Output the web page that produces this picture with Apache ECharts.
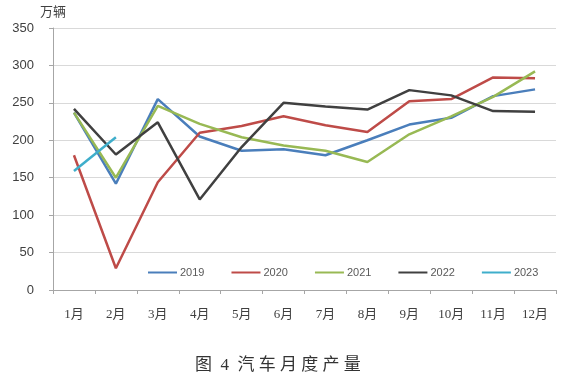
<!DOCTYPE html>
<html>
<head>
<meta charset="utf-8">
<script src="https://cdn.jsdelivr.net/npm/echarts@6/dist/echarts.min.js"></script>
<style>html,body{margin:0;padding:0;background:#fff;}#c{width:573px;height:383px;}</style>
</head>
<body>
<div id="c"></div>
<script>
const categories = ['1月','2月','3月','4月','5月','6月','7月','8月','9月','10月','11月','12月'];
const seriesNames = ['2019','2020','2021','2022','2023'];
const v2019 = [237, 142, 255, 205, 186, 188, 180, 200, 221, 230, 259, 268];
const v2020 = [180, 29, 144, 210, 219, 232, 220, 211, 252, 255, 284, 283];
const v2021 = [237, 150, 246, 222, 204, 193, 186, 171, 208, 232, 258, 292];
const v2022 = [242, 181, 224, 121, 191, 250, 245, 241, 267, 260, 239, 238];
const v2023 = [159, 204];
const yTicks = [0, 50, 100, 150, 200, 250, 300, 350];
const colors = ['#4A7EBB', '#BE4B48', '#98B954', '#404040', '#3FAECB'];
const allValues = [v2019, v2020, v2021, v2022, v2023];

const chart = echarts.init(document.getElementById('c'), null, {renderer: 'canvas'});
const serif = '"Liberation Serif", "Noto Sans CJK SC", serif';
const sans = '"Liberation Sans", "Noto Sans CJK SC", sans-serif';
chart.setOption({
  animation: false,
  backgroundColor: '#fff',
  title: {
    text: '图  4  汽 车 月 度 产 量',
    left: 190, top: 352,
    textStyle: {fontFamily: serif, fontSize: 17, fontWeight: 'normal', color: '#333'}
  },
  legend: {
    data: seriesNames,
    left: 143, top: 262,
    icon: 'rect', itemWidth: 29, itemHeight: 2, itemGap: 27,
    textStyle: {fontFamily: sans, fontSize: 11, color: '#595959', padding: [0,0,0,-2]}
  },
  grid: {left: 53, right: 17, top: 28, bottom: 93, containLabel: false},
  xAxis: {
    type: 'category', data: categories, boundaryGap: true,
    axisLine: {lineStyle: {color: '#A6A6A6', width: 1}},
    axisTick: {show: true, length: 4, alignWithLabel: false, lineStyle: {color: '#A6A6A6'}},
    axisLabel: {fontFamily: serif, fontSize: 13, color: '#404040', margin: 18, interval: 0}
  },
  yAxis: {
    type: 'value', min: yTicks[0], max: yTicks[yTicks.length-1], interval: 50,
    name: '万辆', nameLocation: 'end', nameGap: 9,
    nameTextStyle: {fontFamily: sans, fontSize: 13, color: '#404040', align: 'center'},
    axisLine: {show: true, lineStyle: {color: '#A6A6A6'}},
    axisTick: {show: true, length: 4, lineStyle: {color: '#A6A6A6'}},
    axisLabel: {fontFamily: sans, fontSize: 13, color: '#404040', margin: 19},
    splitLine: {lineStyle: {color: '#D9D9D9', width: 1}}
  },
  series: seriesNames.map((n, i) => ({
    name: n, type: 'line', data: allValues[i],
    symbol: 'none', smooth: false,
    lineStyle: {color: colors[i], width: 2.5},
    itemStyle: {color: colors[i]}
  }))
});
</script>
</body>
</html>
